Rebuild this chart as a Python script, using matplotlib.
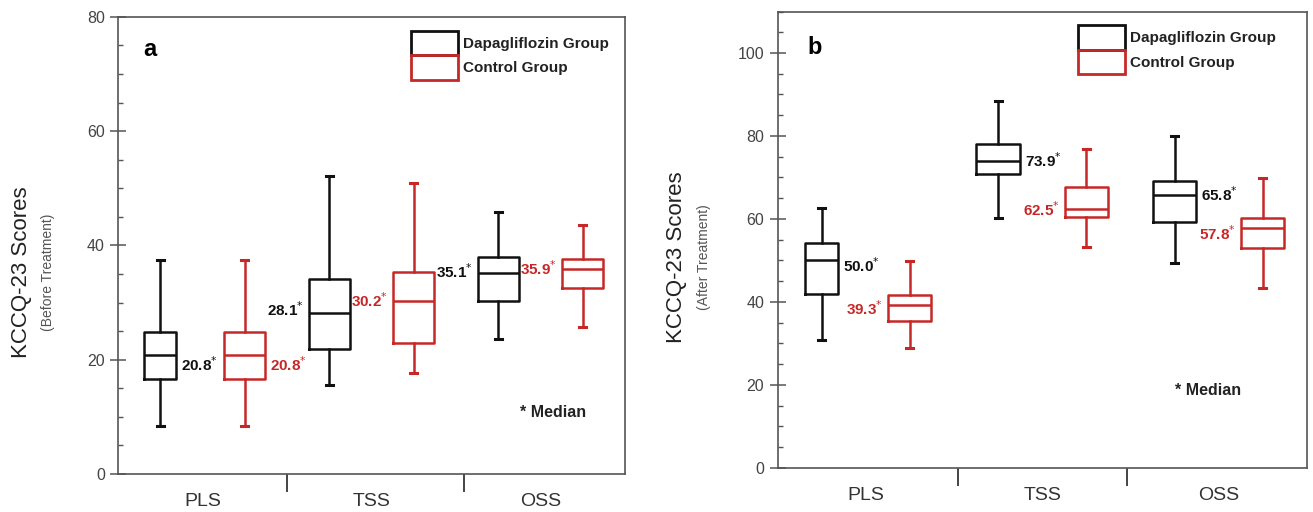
import matplotlib.pyplot as plt
from matplotlib.patches import Patch
from matplotlib.ticker import MultipleLocator

plt.rcParams['font.family'] = ['Liberation Sans', 'DejaVu Sans']

categories = ['PLS', 'TSS', 'OSS']
groups = ['Dapagliflozin Group', 'Control Group']

# five numbers per box: whisker low, q1, median, q3, whisker high
before_dapa = [[8.4, 16.6, 20.8, 24.9, 37.4],
               [15.6, 21.8, 28.1, 34.2, 52.1],
               [23.6, 30.3, 35.1, 38.0, 45.9]]
before_ctrl = [[8.4, 16.6, 20.8, 24.9, 37.4],
               [17.7, 23.0, 30.2, 35.3, 50.9],
               [25.8, 32.5, 35.9, 37.7, 43.6]]
after_dapa = [[30.8, 41.8, 50.0, 54.1, 62.6],
              [60.2, 70.8, 73.9, 78.1, 88.5],
              [49.3, 59.3, 65.8, 69.2, 80.0]]
after_ctrl = [[28.9, 35.4, 39.3, 41.7, 49.9],
              [53.2, 60.5, 62.5, 67.6, 76.9],
              [43.4, 52.9, 57.8, 60.2, 69.8]]

BLACK = '#111111'
RED = '#c62828'


def to_stats(rows):
    return [dict(whislo=r[0], q1=r[1], med=r[2], q3=r[3], whishi=r[4], fliers=[])
            for r in rows]


def draw_group(ax, rows, pos, widths, color, sides, dy):
    lp = dict(color=color, linewidth=1.8)
    ax.bxp(to_stats(rows), positions=pos, widths=widths, capwidths=0.04,
           showfliers=False, manage_ticks=False,
           boxprops=lp, medianprops=lp, whiskerprops=lp,
           capprops=dict(color=color, linewidth=2.2))
    gap = 0.028
    for p, w, r, s, d in zip(pos, widths, rows, sides, dy):
        txt = f'{r[2]:.1f}' + r'$^{*}$'
        if s == 'r':
            ax.text(p + w / 2 + gap, r[2] + d, txt, ha='left', va='center',
                    fontsize=11, fontweight='bold', color=color)
        else:
            ax.text(p - w / 2 - gap, r[2] + d, txt, ha='right', va='center',
                    fontsize=11, fontweight='bold', color=color)


def style_axes(ax, ymax, seps, legend_x):
    ax.set_xlim(0.5, 3.5)
    ax.set_ylim(0, ymax)
    for sp in ax.spines.values():
        sp.set_color('#555555')
        sp.set_linewidth(1.2)
    ax.yaxis.set_major_locator(MultipleLocator(20))
    ax.yaxis.set_minor_locator(MultipleLocator(5))
    ax.tick_params(axis='y', which='major', direction='inout', length=11,
                   width=1.1, color='#555555', labelcolor='#444444',
                   labelsize=11.5, pad=4)
    ax.tick_params(axis='y', which='minor', direction='in', length=3.5,
                   width=1.0, color='#555555')
    ax.set_xticks([1, 2, 3])
    ax.set_xticklabels(categories)
    ax.set_xticks(seps, minor=True)
    ax.tick_params(axis='x', which='major', length=0, labelsize=14,
                   labelcolor='#333333', pad=14)
    ax.tick_params(axis='x', which='minor', direction='out', length=13,
                   width=1.4, color='#444444')
    handles = [Patch(facecolor='none', edgecolor=BLACK, linewidth=2),
               Patch(facecolor='none', edgecolor=RED, linewidth=2)]
    ax.legend(handles=handles, labels=groups, loc='upper left',
              bbox_to_anchor=(legend_x, 0.970),
              frameon=False, borderpad=0, borderaxespad=0,
              handlelength=3.1, handleheight=2.1, labelspacing=0,
              handletextpad=0.35, labelcolor='#222222',
              prop=dict(weight='bold', size=11))


fig = plt.figure(figsize=(13.13, 5.12), dpi=100)
axL = fig.add_axes([0.0899, 0.0742, 0.3861, 0.893])
axR = fig.add_axes([0.5922, 0.0865, 0.4031, 0.891])

dapa_pos = [0.75, 1.75, 2.75]
ctrl_pos = [1.25, 2.25, 3.25]
dapa_w = [0.19, 0.245, 0.245]
ctrl_w = [0.245, 0.245, 0.245]

# panel a
style_axes(axL, 80, [1.5, 2.55], 0.577)
draw_group(axL, before_dapa, dapa_pos, dapa_w, BLACK, ['r', 'l', 'l'], [-1.6, 0.6, 0.3])
draw_group(axL, before_ctrl, ctrl_pos, ctrl_w, RED, ['r', 'l', 'l'], [-1.6, 0.1, 0.1])
axL.text(0.063, 0.928, 'a', transform=axL.transAxes, ha='center', va='center',
         fontsize=17, fontweight='bold')
axL.text(2.88, 10.8, '* Median', ha='left', va='center', fontsize=11.5,
         fontweight='bold', color='#222222')

# panel b
style_axes(axR, 110, [1.52, 2.48], 0.567)
draw_group(axR, after_dapa, dapa_pos, dapa_w, BLACK, ['r', 'r', 'r'], [-1.3, 0.1, 0.0])
draw_group(axR, after_ctrl, ctrl_pos, ctrl_w, RED, ['l', 'l', 'l'], [-1.0, -0.2, -1.3])
axR.text(0.071, 0.922, 'b', transform=axR.transAxes, ha='center', va='center',
         fontsize=17, fontweight='bold')
axR.text(2.75, 18.7, '* Median', ha='left', va='center', fontsize=11.5,
         fontweight='bold', color='#222222')

# y labels
fig.text(0.016, 0.469, 'KCCQ-23 Scores', rotation=90, ha='center', va='center',
         fontsize=16, color='#222222')
fig.text(0.0366, 0.469, '(Before Treatment)', rotation=90, ha='center',
         va='center', fontsize=10, color='#555555')
fig.text(0.5156, 0.498, 'KCCQ-23 Scores', rotation=90, ha='center', va='center',
         fontsize=16, color='#222222')
fig.text(0.5362, 0.498, '(After Treatment)', rotation=90, ha='center',
         va='center', fontsize=10, color='#555555')

fig.savefig('out.png', dpi=100)
